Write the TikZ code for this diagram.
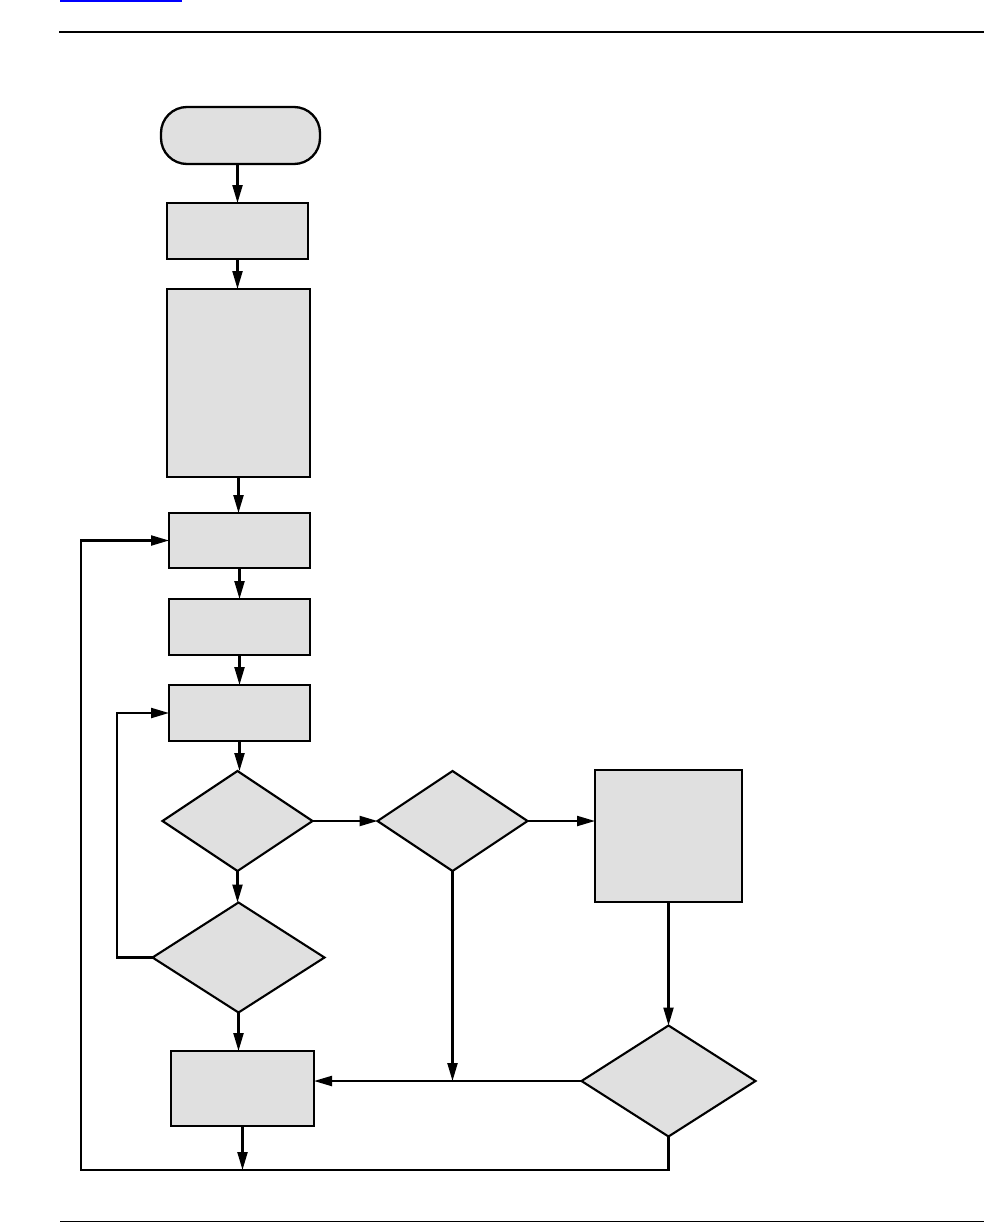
\documentclass[tikz,border=0pt]{standalone}
\usetikzlibrary{shapes.geometric,arrows.meta}
\definecolor{boxgray}{HTML}{E0E0E0}
\begin{document}
\begin{tikzpicture}[x=1pt,y=-1pt,
  every node/.style={inner sep=0pt, outer sep=0pt},
  procbox/.style={draw, fill=boxgray, line width=2.3pt, rectangle},
  decision/.style={draw, fill=boxgray, line width=2.1pt, diamond},
  flow/.style={line width=2.2pt, -{Triangle[length=18pt,width=10pt]}},
  rule/.style={line width=2.2pt}]
\useasboundingbox (0,0) rectangle (984,1223);
% header / footer rules
\draw[blue, line width=1.8pt] (60,0.9) -- (182,0.9);
\draw[rule] (59,32) -- (984,32);
\draw[line width=1.8pt] (60,1221.5) -- (984,1221.5);
% nodes
\node[procbox, rounded corners=26pt, minimum width=159pt, minimum height=57pt] (start) at (240.5,135.5) {};
\node[procbox, minimum width=141pt, minimum height=56pt] (b1) at (237.5,231) {};
\node[procbox, minimum width=143pt, minimum height=188pt] (b2) at (238.5,383) {};
\node[procbox, minimum width=141pt, minimum height=55pt] (b3) at (239.5,540.5) {};
\node[procbox, minimum width=141pt, minimum height=56pt] (b4) at (239.5,627) {};
\node[procbox, minimum width=141pt, minimum height=56pt] (b5) at (239.5,713) {};
\node[decision, minimum width=150pt, minimum height=100pt] (d1) at (237.5,821) {};
\node[decision, minimum width=172pt, minimum height=110pt] (d2) at (238.5,957.5) {};
\node[decision, minimum width=150pt, minimum height=100pt] (d3) at (452.5,821) {};
\node[procbox, minimum width=147pt, minimum height=132pt] (rb) at (668.5,836) {};
\node[decision, minimum width=174pt, minimum height=111pt] (d4) at (668.5,1081) {};
\node[procbox, minimum width=143pt, minimum height=75pt] (bb) at (242.5,1088.5) {};
% free corners
\coordinate (loopA) at (117,957.5);
\coordinate (botL) at (81,1170);
% connectors
\draw[flow] (b1.north |- start.south) -- (b1.north);
\draw[flow] (b1.south) -- (b1.south |- b2.north);
\draw[flow] (b2.south) -- (b2.south |- b3.north);
\draw[flow] (b3.south) -- (b4.north);
\draw[flow] (b4.south) -- (b5.north);
\draw[flow] (b5.south) -- (b5.south |- d1.north);
\draw[flow] (d1.south) -- (d1.south |- d2.north);
\draw[flow] (d2.south) -- (d2.south |- bb.north);
\draw[flow] (d2.west) -- (loopA) |- (b5.west);
\draw[flow] (d1.east) -- (d3.west);
\draw[flow] (d3.east) -- (d3.east -| rb.west);
\draw[flow] (d3.south) -- (d3.south |- d4.west);
\draw[flow] (rb.south) -- (rb.south |- d4.north);
\draw[flow] (d4.west) -- (d4.west -| bb.east);
\draw[flow] (bb.south) -- (bb.south |- botL);
\draw[flow] (d4.south) |- (botL) |- (b3.west);
\end{tikzpicture}
\end{document}
